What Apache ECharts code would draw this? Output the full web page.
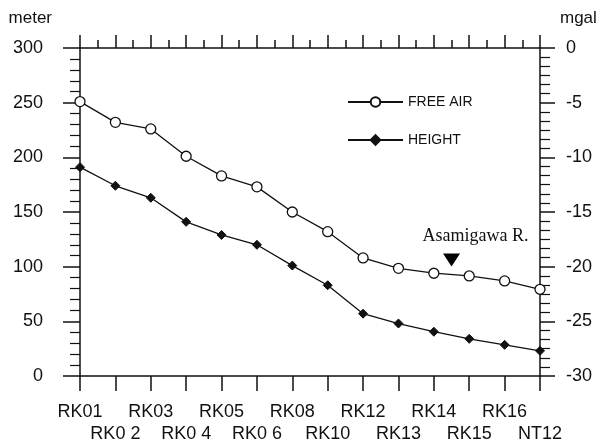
<!DOCTYPE html>
<html>
<head>
<meta charset="utf-8">
<script src="https://cdn.jsdelivr.net/npm/echarts@6/dist/echarts.min.js"></script>
<style>
  html, body { margin: 0; padding: 0; background: #fff; }
  #chart { width: 603px; height: 446px; }
</style>
</head>
<body>
<div id="chart"></div>
<script>
// Survey stations along the profile
const stations = ['RK01', 'RK0 2', 'RK03', 'RK0 4', 'RK05', 'RK0 6', 'RK08',
                  'RK10', 'RK12', 'RK13', 'RK14', 'RK15', 'RK16', 'NT12'];
// Free-air gravity anomaly (mgal, right axis)
const freeAir = [-4.9, -6.8, -7.4, -9.9, -11.7, -12.7, -15.0,
                 -16.8, -19.2, -20.15, -20.6, -20.85, -21.3, -22.07];
// Station elevation (meter, left axis)
const height = [191, 174, 163, 141, 129, 120, 101,
                83, 57, 48, 40.5, 34, 28.5, 23];
// River crossing marker: position along the station index and its mgal level
const riverName = 'Asamigawa R.';
const riverMark = [10.5, -19.39];

const sans = 'Liberation Sans, Arial, sans-serif';
const ink = '#111';

const chart = echarts.init(document.getElementById('chart'), null, { renderer: 'canvas' });

chart.setOption({
  animation: false,
  backgroundColor: '#fff',
  grid: { left: 80, right: 63, top: 48, bottom: 70 },
  legend: {
    orient: 'vertical',
    left: 342,
    top: 90,
    itemWidth: 55,
    itemHeight: 12,
    itemGap: 24,
    textStyle: { fontFamily: sans, fontSize: 14, color: ink },
    data: ['FREE AIR', 'HEIGHT']
  },
  xAxis: [
    {
      type: 'category',
      data: stations,
      boundaryGap: false,
      position: 'bottom',
      axisLine: { lineStyle: { color: ink, width: 1.5 } },
      axisTick: { show: true, length: 15, interval: 0, lineStyle: { color: ink, width: 1.5 } },
      axisLabel: {
        interval: 0,
        margin: 25,
        fontFamily: sans,
        fontSize: 18,
        lineHeight: 22,
        color: ink,
        formatter: (v, i) => (i % 2 === 1 ? '\n' + v : v)
      },
      splitLine: { show: false }
    },
    {
      // top frame edge with station ticks and half-step minor ticks
      type: 'value',
      position: 'top',
      min: 0,
      max: stations.length - 1,
      interval: 1,
      axisLine: { show: true, lineStyle: { color: ink, width: 1.5 } },
      axisTick: { show: true, length: 13, lineStyle: { color: ink, width: 1.5 } },
      minorTick: { show: true, splitNumber: 2, length: 8, lineStyle: { color: ink, width: 1.5 } },
      axisLabel: { show: false },
      splitLine: { show: false }
    }
  ],
  yAxis: [
    {
      type: 'value',
      name: 'meter',
      nameLocation: 'end',
      nameGap: 21,
      nameTextStyle: { fontFamily: sans, fontSize: 17, color: ink, align: 'right', padding: [0, 28, 0, 0] },
      min: 0,
      max: 300,
      interval: 50,
      position: 'left',
      axisLine: { show: true, lineStyle: { color: ink, width: 1.5 } },
      axisTick: { show: true, length: 17, lineStyle: { color: ink, width: 1.5 } },
      minorTick: { show: true, splitNumber: 5, length: 10, lineStyle: { color: ink, width: 1.2 } },
      axisLabel: { margin: 37, fontFamily: sans, fontSize: 18, color: ink },
      splitLine: { show: false }
    },
    {
      type: 'value',
      name: 'mgal',
      nameLocation: 'end',
      nameGap: 21,
      nameTextStyle: { fontFamily: sans, fontSize: 17, color: ink, align: 'left', padding: [0, 0, 0, 20] },
      min: -30,
      max: 0,
      interval: 5,
      position: 'right',
      axisLine: { show: true, lineStyle: { color: ink, width: 1.5 } },
      axisTick: { show: true, length: 15, lineStyle: { color: ink, width: 1.5 } },
      minorTick: { show: true, splitNumber: 6, length: 10, lineStyle: { color: ink, width: 1.2 } },
      axisLabel: { margin: 26, fontFamily: sans, fontSize: 18, color: ink },
      splitLine: { show: false }
    }
  ],
  series: [
    {
      name: 'FREE AIR',
      type: 'line',
      xAxisIndex: 0,
      yAxisIndex: 1,
      data: freeAir,
      symbol: 'circle',
      symbolSize: 10,
      showAllSymbol: true,
      lineStyle: { color: ink, width: 1.3 },
      itemStyle: { color: '#fff', borderColor: ink, borderWidth: 1.3 }
    },
    {
      name: 'HEIGHT',
      type: 'line',
      xAxisIndex: 0,
      yAxisIndex: 0,
      data: height,
      symbol: 'diamond',
      symbolSize: 9,
      showAllSymbol: true,
      lineStyle: { color: ink, width: 1.3 },
      itemStyle: { color: ink, borderColor: ink, borderWidth: 1 }
    },
    {
      name: 'river',
      type: 'scatter',
      xAxisIndex: 1,
      yAxisIndex: 1,
      data: [riverMark],
      symbol: 'triangle',
      symbolRotate: 180,
      symbolSize: [17, 13],
      itemStyle: { color: '#000', opacity: 1 },
      label: {
        show: true,
        position: 'top',
        distance: 8,
        offset: [24, 0],
        formatter: riverName,
        fontFamily: 'Liberation Serif, Times New Roman, serif',
        fontSize: 18,
        color: ink
      },
      silent: true
    }
  ]
});
</script>
</body>
</html>
